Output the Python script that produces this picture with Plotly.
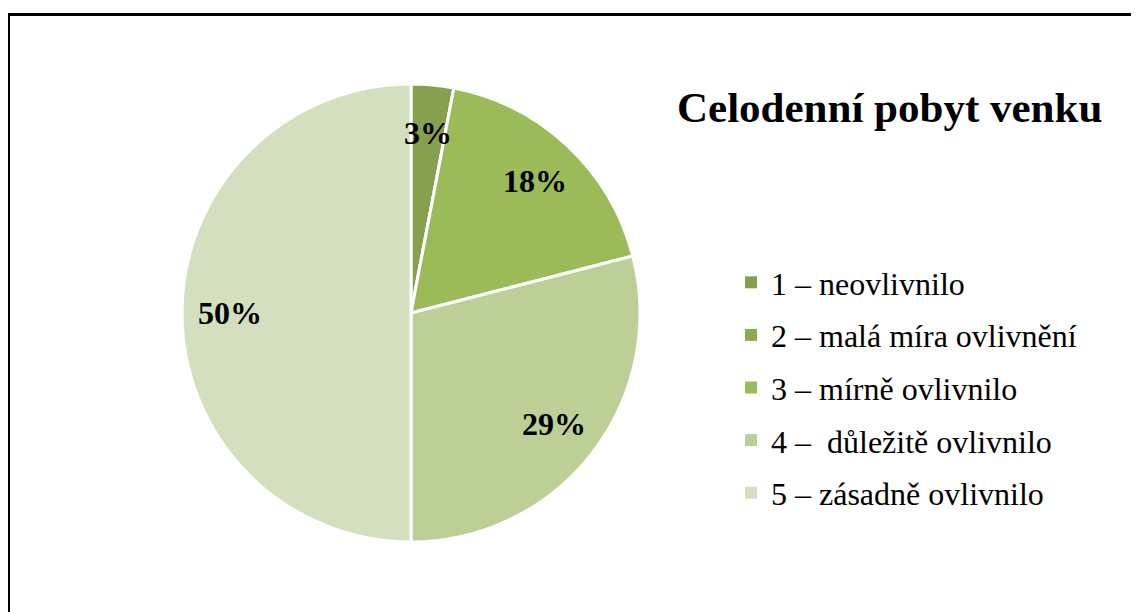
import math
import plotly.graph_objects as go

categories = ["1 – neovlivnilo", "2 – malá míra ovlivnění", "3 – mírně ovlivnilo",
              "4 –  důležitě ovlivnilo", "5 – zásadně ovlivnilo"]
values = [3, 0, 18, 29, 50]
colors = ["#86A050", "#8DAA52", "#9BBB59", "#BBCF96", "#D3DFBF"]
title_text = "Celodenní pobyt venku"

W, H = 1139, 612
OFF = 8  # page body margin


def fx(x):
    return (x - OFF) / W


def fy(y):
    return 1 - (y - OFF) / H


cx, cy, R = 411, 313, 229

fig = go.Figure()
fig.add_trace(go.Pie(
    labels=categories, values=values, sort=False, direction="clockwise",
    rotation=0, marker=dict(colors=colors, line=dict(color="white", width=3)),
    textinfo="none",
    domain=dict(x=[fx(cx - R), fx(cx + R)], y=[fy(cy + R), fy(cy - R)]),
    showlegend=False, hoverinfo="label+percent",
))
for cat, col in zip(categories, colors):
    fig.add_trace(go.Scatter(
        x=[None], y=[None], mode="markers", name=cat, legendgroup=cat,
        marker=dict(symbol="square", size=10, color=col), showlegend=True,
    ))

# percentage labels placed along each slice's bisector
annotations = []
total = sum(values)
cum = 0
for v in values:
    if v > 0:
        mid = (cum + v / 2) / total * 2 * math.pi
        r = 0.79 * R
        annotations.append(dict(
            text="<b>%d%%</b>" % round(100 * v / total),
            x=fx(cx + r * math.sin(mid)), y=fy(cy - r * math.cos(mid)),
            xref="paper", yref="paper", showarrow=False,
            xanchor="center", yanchor="middle",
            font=dict(family="Liberation Serif", size=32, color="black")))
    cum += v

annotations.append(dict(text="<b>" + title_text + "</b>", x=fx(889), y=fy(108),
                        xref="paper", yref="paper", showarrow=False,
                        xanchor="center", yanchor="middle",
                        font=dict(family="Liberation Serif", size=43, color="black")))

fig.update_layout(
    width=W, height=H, margin=dict(l=0, r=0, t=0, b=0),
    paper_bgcolor="white", plot_bgcolor="white",
    xaxis=dict(visible=False), yaxis=dict(visible=False),
    legend=dict(x=fx(731), y=fy(255), xanchor="left", yanchor="top",
                font=dict(family="Liberation Serif", size=32, color="black"),
                tracegroupgap=8, itemsizing="constant", bgcolor="rgba(0,0,0,0)"),
    annotations=annotations,
    shapes=[dict(type="rect", xref="paper", yref="paper",
                 x0=fx(8.5), x1=1.05, y0=-0.05, y1=fy(14.5),
                 line=dict(color="black", width=3))],
)
fig.write_html("out.html")
